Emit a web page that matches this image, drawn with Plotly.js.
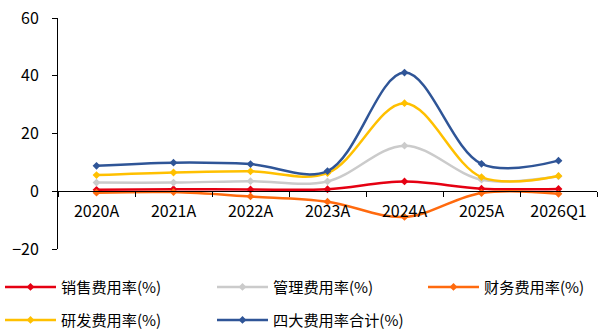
<!DOCTYPE html>
<html><head><meta charset="utf-8">
<script src="https://cdn.plot.ly/plotly-3.0.1.min.js"></script>
<style>html,body{margin:0;padding:0;background:#fff}#c{width:598px;height:331px}</style>
</head><body><div id="c"></div>
<script>
const categories = ["2020A","2021A","2022A","2023A","2024A","2025A","2026Q1"];
const salesRate = [0.5, 0.7, 0.6, 0.7, 3.4, 0.9, 0.8];
const mgmtRate = [3.0, 3.0, 3.5, 3.4, 15.8, 4.0, 5.2];
const finRate = [-0.5, -0.3, -1.8, -3.6, -8.9, -0.6, -0.9];
const rdRate = [5.6, 6.5, 6.9, 6.3, 30.5, 4.9, 5.3];
const totalRate = [8.8, 9.9, 9.4, 7.0, 41.1, 9.5, 10.6];
const names = ["销售费用率(%)","管理费用率(%)","财务费用率(%)","研发费用率(%)","四大费用率合计(%)"];
const yTicks = [-20, 0, 20, 40, 60];

const series = [salesRate, mgmtRate, finRate, rdRate, totalRate];
const colors = ["#E50012","#CBCBCB","#FF6A0E","#FFC000","#2F5597"];
const legIds = ["legend","legend2","legend3","legend4","legend5"];
const legPos = [[0,287],[212,287],[423,287],[0,320],[212,320]];
const traces = series.map((v,i)=>({
  x: categories, y: v, name: names[i], type:"scatter", mode:"lines+markers",
  line:{color:colors[i], width:2.5, shape:"spline", smoothing:1},
  marker:{symbol:"diamond", size:6, color:colors[i]},
  legend: legIds[i]
}));
const font = {family:"Noto Sans CJK SC, Noto Sans, sans-serif", size:16, color:"#000"};
const legFont = {family:"Noto Sans CJK SC, Noto Sans, sans-serif", size:15.2, color:"#000"};
const layout = {
  width:598, height:331,
  margin:{l:58, r:1, t:18, b:82, autoexpand:false},
  paper_bgcolor:"#fff", plot_bgcolor:"#fff",
  font: font,
  showlegend:true,
  xaxis:{type:"category", anchor:"free", position:0.25, showline:true, linecolor:"#000", linewidth:1,
    ticks:"outside", tickson:"boundaries", ticklen:5, tickcolor:"#000", showgrid:false, zeroline:false,
    ticklabelstandoff:6, tickfont:font, range:[-0.5,6.5], automargin:false},
  yaxis:{range:[-20,60], tickvals:yTicks, showline:true, linecolor:"#000", linewidth:1,
    ticks:"outside", ticklen:5, tickcolor:"#000", showgrid:false, zeroline:false, tickfont:font,
    ticklabelstandoff:10, automargin:false}
};
legIds.forEach((id,i)=>{
  layout[id] = {orientation:"h", x:legPos[i][0]/598, xref:"container", xanchor:"left",
    y:(331-legPos[i][1])/331, yref:"container", yanchor:"middle",
    itemwidth:51, font:legFont, bgcolor:"rgba(0,0,0,0)", borderwidth:0};
});
Plotly.newPlot("c", traces, layout, {displayModeBar:false, staticPlot:true});
</script></body></html>
